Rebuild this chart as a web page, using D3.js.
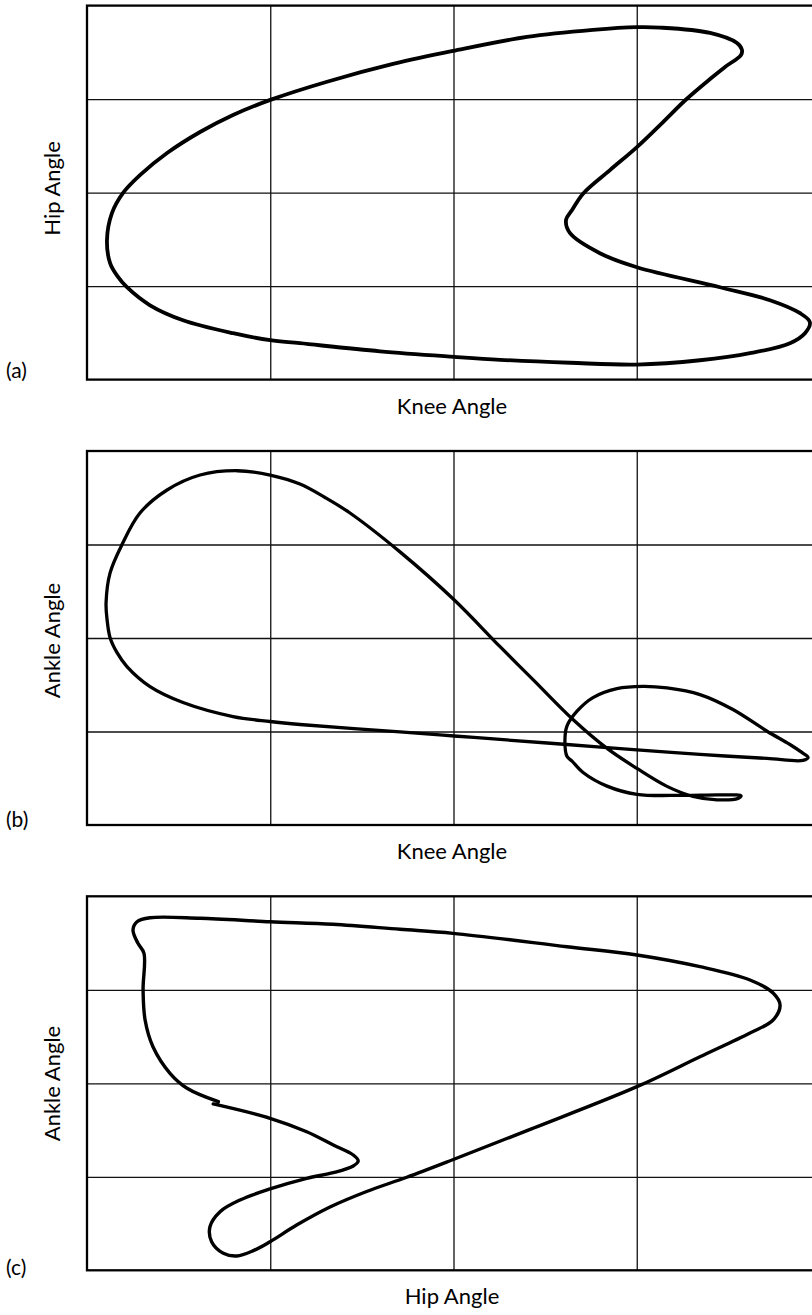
<!DOCTYPE html>
<html>
<head>
<meta charset="utf-8">
<script src="https://cdn.jsdelivr.net/npm/d3@7"></script>
<style>
  html, body { margin: 0; padding: 0; background: #fff; }
  svg { display: block; }
  text { font-family: Lato, "Open Sans", sans-serif; fill: #000; }
</style>
</head>
<body>
<div id="chart"></div>
<script>
// ---- DATA (grid units: gridlines every 10, axis domain 0..40) ----
const panelLabels = ["(a)", "(b)", "(c)"];
const xTitles = ["Knee Angle", "Knee Angle", "Hip Angle"];
const yTitles = ["Hip Angle", "Ankle Angle", "Ankle Angle"];
const gridTicks = [10, 20, 30];

// (a) Hip vs Knee — closed loop
const kneeA = [31.27,30.01,27.61,24.01,19.97,16.70,13.10,10.04,7.97,6.17,4.37,2.89,1.96,1.36,1.09,1.26,1.66,2.18,3.44,5.24,7.97,9.99,11.62,15.99,20.03,22.54,26.36,30.01,33.45,36.18,38.36,39.18,39.45,38.91,37.27,34.54,30.01,27.99,26.36,26.14,26.47,27.07,28.54,30.01,31.38,32.69,34.00,34.82,35.69,35.74,35.47,34.00];
const hipA  = [37.65,37.69,37.40,36.65,35.15,33.76,31.86,29.94,28.30,26.48,24.23,21.87,19.95,17.81,14.92,12.45,11.06,9.88,7.95,6.35,4.96,4.21,3.89,3.03,2.44,2.12,1.80,1.61,2.07,2.82,3.89,4.96,6.13,7.10,8.49,9.88,12.02,13.52,15.66,17.06,18.13,19.89,22.41,24.87,27.44,29.96,32.15,33.44,34.72,35.26,36.00,37.08];

// (b) Ankle vs Knee — closed loop
const kneeB  = [39.35,39.07,37.11,33.45,30.01,26.19,22.54,20.03,17.08,11.62,9.99,7.97,5.24,3.44,2.18,1.64,1.26,1.09,1.04,1.26,1.91,2.89,4.37,6.17,8.19,9.99,11.62,12.99,14.35,17.08,20.03,22.54,24.34,26.52,28.38,30.01,31.65,33.07,34.38,35.53,35.69,34.54,32.52,30.01,28.38,27.07,26.47,26.19,26.08,26.19,26.74,27.61,28.92,30.34,31.65,33.45,35.25,37.11,38.36,39.01];
const ankleB = [7.23,6.91,7.12,7.55,8.03,8.61,9.15,9.52,9.95,10.75,11.07,11.60,13.10,14.80,16.94,18.43,20.03,22.06,23.77,26.97,29.99,33.37,35.83,37.43,37.89,37.43,36.47,35.03,33.37,29.21,24.09,19.07,15.55,11.28,8.19,6.05,4.13,3.06,2.69,2.85,3.12,3.22,3.17,3.28,4.16,5.62,6.83,7.36,8.83,10.57,12.17,13.63,14.59,14.83,14.66,13.95,12.35,10.03,8.61,7.76];

// (c) Ankle vs Hip — open trace
const hipC   = [6.89,9.99,11.99,13.44,14.53,14.80,14.53,13.44,11.99,9.99,8.35,7.26,6.71,6.80,7.44,8.17,9.08,9.99,11.44,13.26,15.26,17.45,19.99,24.34,30.01,33.45,36.18,37.44,37.82,37.44,36.18,33.45,30.01,26.19,19.97,17.08,13.42,9.99,6.17,3.44,2.73,2.51,2.78,3.11,3.06,3.17,3.60,4.53,5.46,7.17];
const ankleC = [17.79,16.26,14.82,13.40,12.33,11.69,11.16,10.44,9.84,8.70,7.52,6.27,4.66,3.06,1.82,1.53,2.10,3.06,4.84,6.77,8.43,9.95,11.85,15.19,19.64,22.84,25.38,26.77,28.37,29.66,31.05,32.47,33.72,34.61,36.04,36.47,37.01,37.28,37.65,37.71,37.28,36.40,34.97,33.90,29.98,26.77,23.91,21.07,19.47,18.03];

// ---- LAYOUT ----
const W = 812, H = 1315;
const left = 87, plotW = 733, plotH = 374;
const tops = [5.6, 451, 896.3];
const labelBaselines = [377.5, 826.5, 1274.5];
const yTitleCenters = [188.5, 640.5, 1083.5];

const panels = [
  {xs: kneeA, ys: hipA, closed: true, sw: 3.8},
  {xs: kneeB, ys: ankleB, closed: true, sw: 3.3},
  {xs: hipC, ys: ankleC, closed: false, sw: 3.4}
];

const svg = d3.select("#chart").append("svg")
  .attr("width", W).attr("height", H);

panels.forEach((p, i) => {
  const top = tops[i];
  const x = d3.scaleLinear().domain([0, 40]).range([left, left + plotW]);
  const y = d3.scaleLinear().domain([0, 40]).range([top + plotH, top]);
  const g = svg.append("g");

  // grid via axes
  g.append("g")
    .attr("transform", `translate(0,${top + plotH})`)
    .call(d3.axisBottom(x).tickValues(gridTicks).tickSize(-plotH).tickFormat(""))
    .call(s => s.select(".domain").remove())
    .call(s => s.selectAll("line").attr("stroke", "#111").attr("stroke-width", 1.3));
  g.append("g")
    .attr("transform", `translate(${left},0)`)
    .call(d3.axisLeft(y).tickValues(gridTicks).tickSize(-plotW).tickFormat(""))
    .call(s => s.select(".domain").remove())
    .call(s => s.selectAll("line").attr("stroke", "#111").attr("stroke-width", 1.3));

  // frame
  g.append("rect")
    .attr("x", x(0)).attr("y", y(40))
    .attr("width", x(40) - x(0)).attr("height", y(0) - y(40))
    .attr("fill", "none").attr("stroke", "#000").attr("stroke-width", 2.3);

  // curve
  const pts = p.xs.map((v, k) => [v, p.ys[k]]);
  const line = d3.line()
    .x(d => x(d[0])).y(d => y(d[1]))
    .curve(p.closed ? d3.curveCatmullRomClosed.alpha(0.5) : d3.curveCatmullRom.alpha(0.5));
  g.append("path")
    .attr("d", line(pts))
    .attr("fill", "none").attr("stroke", "#000")
    .attr("stroke-width", p.sw)
    .attr("stroke-linejoin", "round").attr("stroke-linecap", "round");

  // titles
  g.append("text")
    .attr("x", 452).attr("y", top + plotH + 34)
    .attr("text-anchor", "middle").attr("font-size", 22)
    .text(xTitles[i]);
  g.append("text")
    .attr("transform", `translate(60,${yTitleCenters[i]}) rotate(-90)`)
    .attr("text-anchor", "middle").attr("font-size", 22)
    .text(yTitles[i]);
  g.append("text")
    .attr("x", 6).attr("y", labelBaselines[i])
    .attr("font-size", 21)
    .text(panelLabels[i]);
});
</script>
</body>
</html>
